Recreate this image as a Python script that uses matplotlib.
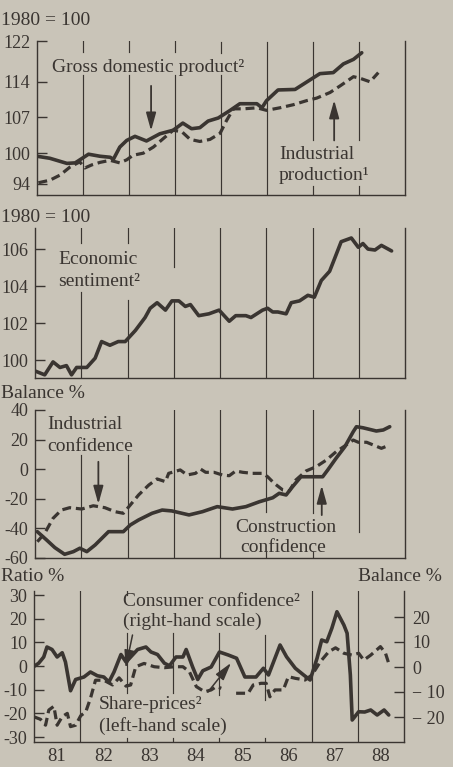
import numpy as np
import matplotlib
matplotlib.use("Agg")
import matplotlib.pyplot as plt

W, H = 453, 767
BG = "#c9c4b8"
INK = "#3a3531"
plt.rcParams['font.family'] = ['Liberation Serif', 'DejaVu Serif']

# ---------------- data ----------------
gdp_x = [1981.00, 1981.28, 1981.65, 1981.83, 1982.12, 1982.37, 1982.59, 1982.66, 1982.80,
         1982.95, 1983.13, 1983.38, 1983.67, 1983.96, 1984.17, 1984.36, 1984.54, 1984.72,
         1984.94, 1985.20, 1985.41, 1985.78, 1985.89, 1985.99, 1986.24, 1986.61, 1987.01,
         1987.15, 1987.44, 1987.66, 1987.88, 1988.06]
gdp_y = [99.4, 99.0, 98.0, 98.1, 99.8, 99.4, 99.2, 98.8, 101.2,
         102.5, 103.3, 102.4, 103.8, 104.5, 105.9, 104.8, 105.0, 106.3,
         106.9, 108.4, 109.7, 109.7, 108.9, 110.3, 112.4, 112.5, 114.8,
         115.6, 115.8, 117.5, 118.4, 119.7]

ip_x = [1981.03, 1981.28, 1981.50, 1981.72, 1981.93, 1982.04, 1982.19, 1982.37, 1982.59,
        1982.80, 1982.95, 1983.09, 1983.31, 1983.53, 1983.75, 1983.96, 1984.15, 1984.33,
        1984.54, 1984.76, 1984.98, 1985.12, 1985.27, 1985.49, 1985.78, 1985.99, 1986.28,
        1986.57, 1986.86, 1987.08, 1987.37, 1987.59, 1987.88, 1988.02, 1988.24, 1988.42]
ip_y = [94.2, 94.7, 95.7, 97.3, 98.3, 97.1, 97.7, 98.2, 98.6,
        98.1, 98.7, 99.6, 100.0, 101.2, 102.9, 104.5, 104.2, 102.7,
        102.3, 102.7, 103.9, 106.4, 108.7, 108.7, 108.9, 108.4, 108.9,
        109.5, 110.3, 110.8, 111.9, 113.2, 115.0, 114.7, 114.0, 115.8]

es_x = [1981.01, 1981.21, 1981.39, 1981.54, 1981.68, 1981.79, 1981.90, 1982.12, 1982.30,
        1982.44, 1982.62, 1982.80, 1982.95, 1983.17, 1983.38, 1983.49, 1983.64, 1983.82,
        1983.96, 1984.11, 1984.25, 1984.36, 1984.54, 1984.76, 1984.98, 1985.20, 1985.34,
        1985.56, 1985.67, 1985.92, 1986.03, 1986.14, 1986.25, 1986.43, 1986.54, 1986.72,
        1986.90, 1987.04, 1987.19, 1987.37, 1987.48, 1987.62, 1987.73, 1987.84, 1987.99,
        1988.09, 1988.20, 1988.35, 1988.49, 1988.71]
es_y = [99.4, 99.2, 99.9, 99.6, 99.7, 99.2, 99.6, 99.6, 100.1,
        101.0, 100.8, 101.0, 101.0, 101.6, 102.3, 102.8, 103.1, 102.7,
        103.2, 103.2, 102.9, 103.0, 102.4, 102.5, 102.7, 102.1, 102.4,
        102.4, 102.3, 102.7, 102.8, 102.6, 102.6, 102.5, 103.1, 103.2,
        103.5, 103.4, 104.3, 104.8, 105.5, 106.4, 106.5, 106.6, 106.1,
        106.3, 106.0, 105.95, 106.2, 105.9]

ind_x = [1981.05, 1981.21, 1981.39, 1981.57, 1981.75, 1982.01, 1982.26, 1982.51, 1982.73,
         1982.91, 1983.06, 1983.24, 1983.46, 1983.64, 1983.82, 1983.89, 1984.14, 1984.29,
         1984.47, 1984.58, 1984.69, 1984.87, 1985.05, 1985.20, 1985.34, 1985.49, 1985.70,
         1985.92, 1986.03, 1986.17, 1986.36, 1986.50, 1986.64, 1986.86, 1987.08, 1987.30,
         1987.51, 1987.73, 1987.88, 1987.99, 1988.17, 1988.31, 1988.49, 1988.67]
ind_y = [-49.0, -43.3, -33.2, -27.6, -26.0, -26.9, -24.7, -26.0, -28.7,
         -29.8, -24.2, -17.4, -10.7, -6.6, -8.4, -2.8, -0.5, -3.9,
         -2.8, 0.1, -2.1, -2.1, -3.9, -4.4, -1.2, -2.1, -2.8,
         -2.8, -5.1, -9.5, -14.1, -14.7, -7.3, -1.2, 1.7, 6.2,
         11.8, 16.4, 19.7, 18.2, 18.2, 16.4, 14.1, 16.4]

con_x = [1981.05, 1981.25, 1981.43, 1981.64, 1981.83, 1981.97, 1982.12, 1982.30, 1982.59,
         1982.91, 1983.06, 1983.24, 1983.53, 1983.75, 1983.96, 1984.33, 1984.62, 1984.94,
         1985.27, 1985.56, 1985.85, 1986.14, 1986.28, 1986.43, 1986.57, 1986.75, 1986.93,
         1987.22, 1987.33, 1987.51, 1987.70, 1987.88, 1987.95, 1988.09, 1988.38, 1988.53,
         1988.67]
con_y = [-42.2, -47.8, -53.0, -57.5, -55.7, -53.4, -55.7, -51.2, -42.2,
         -42.2, -37.7, -34.3, -29.8, -27.6, -28.2, -30.9, -28.7, -25.3,
         -26.9, -25.3, -22.0, -19.3, -16.3, -17.4, -11.8, -5.1, -5.1,
         -5.1, -0.5, 7.4, 15.2, 25.3, 28.7, 28.0, 25.8, 26.5,
         28.7]

cc_x = [1980.98, 1981.10, 1981.21, 1981.28, 1981.39, 1981.50, 1981.61, 1981.68, 1981.79,
        1981.90, 1982.08, 1982.22, 1982.37, 1982.51, 1982.62, 1982.73, 1982.88, 1982.99,
        1983.09, 1983.24, 1983.42, 1983.53, 1983.67, 1983.82, 1983.93, 1984.07, 1984.22,
        1984.29, 1984.43, 1984.54, 1984.65, 1984.83, 1985.01, 1985.20, 1985.38, 1985.56,
        1985.70, 1985.80, 1985.96, 1986.07, 1986.32, 1986.46, 1986.65, 1986.83, 1986.97,
        1987.12, 1987.22, 1987.33, 1987.44, 1987.55, 1987.70, 1987.77, 1987.84, 1987.88,
        1988.02, 1988.15, 1988.28, 1988.42, 1988.57, 1988.67]
cc_y = [0.0, 1.5, 4.0, 8.0, 7.0, 4.0, 5.7, 2.0, -9.5,
        -5.0, -4.0, -2.0, -3.5, -4.0, -6.0, -2.0, 5.0, 2.0,
        4.0, 7.0, 8.0, 6.0, 5.0, 1.5, 0.5, 4.0, 4.0,
        7.0, 0.0, -5.0, -1.5, 0.0, 6.0, 4.8, 3.5, -4.0,
        -4.0, -4.0, -0.5, -3.2, 8.8, 4.1, -0.5, -3.2, -5.2,
        3.5, 10.8, 10.1, 15.5, 22.1, 16.8, 13.5, -3.2, -21.2,
        -17.9, -18.0, -17.2, -19.2, -17.2, -19.2]

sp_x = [1980.99, 1981.14, 1981.25, 1981.32, 1981.43, 1981.50, 1981.61, 1981.72, 1981.79,
        1981.90, 1982.01, 1982.12, 1982.22, 1982.33, 1982.51, 1982.70, 1982.84, 1982.99,
        1983.09, 1983.20, 1983.38, 1983.60, 1983.82, 1984.04, 1984.22, 1984.36, 1984.51,
        1984.69, 1984.83, 1984.94, 1985.05, 1985.20, 1985.37, 1985.63, 1985.74, 1985.91,
        1986.02, 1986.10, 1986.21, 1986.39, 1986.50, 1986.65, 1986.86, 1987.01, 1987.19,
        1987.37, 1987.52, 1987.70, 1987.88, 1988.02, 1988.13, 1988.28, 1988.49, 1988.60,
        1988.67]
sp_y = [-21.4, -22.5, -25.0, -18.6, -17.0, -25.0, -21.4, -20.0, -25.6,
        -25.0, -21.0, -19.3, -13.7, -6.0, -6.0, -8.0, -5.0, -8.5,
        -8.0, -0.3, 1.1, -0.3, -0.7, -0.3, -0.3, -2.4, -8.7,
        -10.9, -10.1, -8.7, -9.4, np.nan, -11.5, -11.5, -8.0, -7.3,
        -7.3, -13.0, -10.1, -10.1, -4.5, -5.2, -5.9, -3.8, 1.8,
        6.0, 7.7, 5.4, 4.6, 5.4, 2.5, 4.6, 8.2, 5.4,
        1.1]

year_lines = [1982, 1983, 1984, 1985, 1986, 1987, 1988]
year_ticks = [1981.5, 1982.5, 1983.5, 1984.5, 1985.5, 1986.5, 1987.5, 1988.5]
year_labels = ['81', '82', '83', '84', '85', '86', '87', '88']

p1_ticks = [94, 100, 107, 114, 122]
p2_ticks = [100, 102, 104, 106]
p3_ticks = [-60, -40, -20, 0, 20, 40]
p3_labels = ['-60', '-40', '-20', '0', '20', '40']
p4l_ticks = [-30, -20, -10, 0, 10, 20, 30]
p4l_labels = ['-30', '-20', '-10', '0', '10', '20', '30']
p4r_ticks = [-20, -10, 0, 10, 20]
p4r_labels = ['\u2212 20', '\u2212 10', '0', '10', '20']

# ---------------- figure ----------------
fig = plt.figure(figsize=(W / 100, H / 100), dpi=100, facecolor=BG)


def make_axes(top, bottom, left, right):
    ax = fig.add_axes([left / W, 1 - bottom / H, (right - left) / W, (bottom - top) / H])
    ax.set_facecolor('none')
    ax.spines['top'].set_visible(False)
    for s in ('left', 'right', 'bottom'):
        ax.spines[s].set_color(INK)
        ax.spines[s].set_linewidth(1.0)
    ax.set_xlim(1981, 1989)
    ax.tick_params(axis='y', direction='in', length=7, width=1.0, color=INK,
                   labelsize=13, labelcolor=INK, pad=5)
    ax.tick_params(axis='x', length=0, labelbottom=False)
    ax._px = (top, bottom)
    return ax


def vseg(ax, yr, y0, y1):
    top, bottom = ax._px
    ax.axvline(yr, ymin=(bottom - y1) / (bottom - top), ymax=(bottom - y0) / (bottom - top),
               color=INK, lw=0.85, zorder=1)


def ftext(x, y, s, size=14, ha='left'):
    fig.text(x / W, 1 - y / H, s, ha=ha, va='baseline', fontsize=size, color=INK)


def arrow(ax, x, ytail, ytip):
    ax.annotate('', xy=(x, ytip), xytext=(x, ytail),
                arrowprops=dict(arrowstyle='-|>,head_length=0.9,head_width=0.25',
                                color=INK, lw=1.3, mutation_scale=12,
                                shrinkA=0, shrinkB=0), zorder=4)


SOLID = dict(color=INK, lw=2.6, solid_joinstyle='round', solid_capstyle='round', zorder=3)
DASH = dict(color=INK, lw=2.3, linestyle=(0, (2.8, 1.5)), zorder=3)

# ---- panel 1
ax1 = make_axes(41, 195, 37, 405)
ax1.set_ylim(91.8, 122.0)
ax1.set_yticks(p1_ticks)
ax1.plot(gdp_x, gdp_y, **SOLID)
ax1.plot(ip_x, ip_y, **DASH)
for yr, segs in zip(year_lines, [[(41, 52), (75, 195)], [(41, 52), (75, 195)],
                                 [(41, 52), (75, 195)], [(42, 53), (75, 195)],
                                 [(42, 195)], [(42, 140), (186, 195)],
                                 [(42, 140), (186, 195)]]):
    for a, b in segs:
        vseg(ax1, yr, a, b)
arrow(ax1, 1983.48, 113.2, 104.4)
arrow(ax1, 1987.46, 102.5, 110.4)
ftext(1, 25, '1980 = 100')
ftext(52, 72, 'Gross domestic product\u00b2')
ftext(279, 159, 'Industrial')
ftext(279, 180, 'production\u00b9')

# ---- panel 2
ax2 = make_axes(228, 378, 35, 405)
ax2.set_ylim(99.03, 107.14)
ax2.set_yticks(p2_ticks)
ax2.plot(es_x, es_y, **SOLID)
for yr, segs in zip(year_lines, [[(228, 243), (292, 378)], [(228, 243), (300, 378)],
                                 [(228, 267), (300, 378)], [(228, 378)], [(228, 378)],
                                 [(228, 378)], [(228, 378)]]):
    for a, b in segs:
        vseg(ax2, yr, a, b)
ftext(1, 222, '1980 = 100')
ftext(58, 264, 'Economic')
ftext(58, 286, 'sentiment\u00b2')

# ---- panel 3
ax3 = make_axes(410, 558, 35, 405)
ax3.set_ylim(-60, 40)
ax3.set_yticks(p3_ticks)
ax3.set_yticklabels(p3_labels)
ax3.plot(con_x, con_y, **SOLID)
ax3.plot(ind_x, ind_y, **DASH)
for yr, segs in zip(year_lines, [[(455, 558)], [(455, 558)], [(410, 558)], [(410, 558)],
                                 [(410, 512), (552, 558)], [(410, 513), (552, 558)],
                                 [(410, 532)]]):
    for a, b in segs:
        vseg(ax3, yr, a, b)
arrow(ax3, 1982.37, 5.0, -23.5)
arrow(ax3, 1987.2, -31.0, -11.0)
ftext(1, 398, 'Balance %')
ftext(47, 429, 'Industrial')
ftext(47, 451, 'confidence')
ftext(235, 532, 'Construction')
ftext(240, 552, 'confidence')

# ---- panel 4
ax4 = make_axes(591, 742, 34, 404)
ax4.set_ylim(-32.1, 31.7)
ax4.set_yticks(p4l_ticks)
ax4.set_yticklabels(p4l_labels)
ax4.spines['right'].set_visible(False)
ax4.plot(sp_x, sp_y, **DASH)
ax4.tick_params(axis='x', labelbottom=True, length=0, pad=4, labelsize=13.5, labelcolor=INK)
ax4.set_xticks(year_ticks)
ax4.set_xticklabels(year_labels)
for yr, segs in zip(year_lines, [[(591, 742)], [(591, 595), (633, 693), (738, 742)],
                                 [(633, 693), (738, 742)], [(633, 695), (738, 742)],
                                 [(635, 700), (738, 742)], [(591, 742)], [(591, 742)]]):
    for a, b in segs:
        vseg(ax4, yr, a, b)
ax4r = ax4.twinx()
ax4r.set_xlim(1981, 1989)
ax4r.set_ylim(-30, 30.4)
ax4r.set_yticks(p4r_ticks)
ax4r.set_yticklabels(p4r_labels)
for s in ('top', 'left', 'bottom'):
    ax4r.spines[s].set_visible(False)
ax4r.spines['right'].set_color(INK)
ax4r.spines['right'].set_linewidth(1.0)
ax4r.tick_params(axis='y', direction='in', length=7, width=1.0, color=INK,
                 labelsize=13, labelcolor=INK, pad=6)
ax4r.plot(cc_x, cc_y, **SOLID)
ax4r.annotate('', xy=(1982.98, -0.4), xytext=(1983.13, 12.8),
              arrowprops=dict(arrowstyle='-|>,head_length=0.9,head_width=0.25',
                              color=INK, lw=1.1, mutation_scale=12, shrinkA=0, shrinkB=0))
ax4.annotate('', xy=(1985.26, 1.3), xytext=(1984.76, -11.0),
             arrowprops=dict(arrowstyle='-|>,head_length=0.9,head_width=0.25',
                             color=INK, lw=1.1, mutation_scale=12, shrinkA=0, shrinkB=0))
ftext(1, 581, 'Ratio %')
ftext(358, 581, 'Balance %')
ftext(123, 606, 'Consumer confidence\u00b2')
ftext(123, 626, '(right-hand scale)')
ftext(99, 709, 'Share-prices\u00b2')
ftext(99, 731, '(left-hand scale)')

fig.savefig('out.png', dpi=100, facecolor=BG)
